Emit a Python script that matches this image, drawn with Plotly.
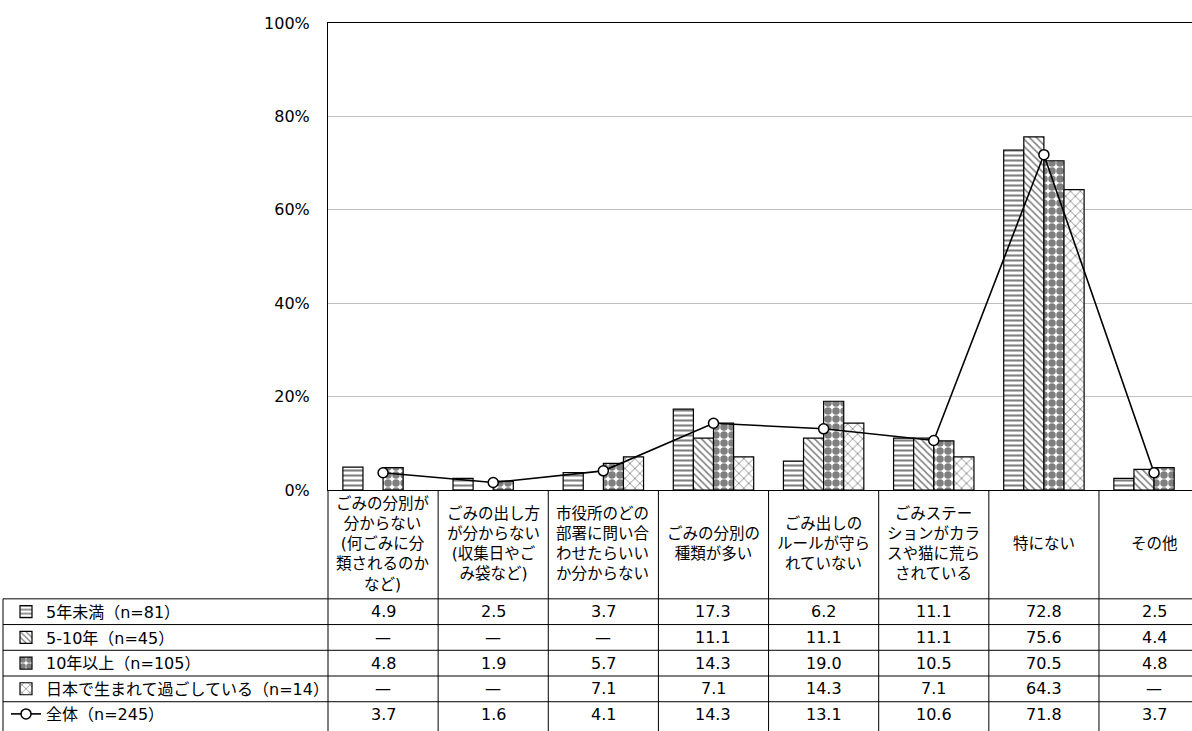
import plotly.graph_objects as go

# ---------------- data ----------------
categories = [
    "ごみの分別が<br>分からない<br>(何ごみに分<br>類されるのか<br>など)",
    "ごみの出し方<br>が分からない<br>(収集日やご<br>み袋など)",
    "市役所のどの<br>部署に問い合<br>わせたらいい<br>か分からない",
    "ごみの分別の<br>種類が多い",
    "ごみ出しの<br>ルールが守ら<br>れていない",
    "ごみステー<br>ションがカラ<br>スや猫に荒ら<br>されている",
    "特にない",
    "その他",
]
series_names = [
    "5年未満（n=81）",
    "5-10年（n=45）",
    "10年以上（n=105）",
    "日本で生まれて過ごしている（n=14）",
]
v_lt5 = [4.9, 2.5, 3.7, 17.3, 6.2, 11.1, 72.8, 2.5]
v_5to10 = [None, None, None, 11.1, 11.1, 11.1, 75.6, 4.4]
v_10plus = [4.8, 1.9, 5.7, 14.3, 19.0, 10.5, 70.5, 4.8]
v_japan = [None, None, 7.1, 7.1, 14.3, 7.1, 64.3, None]
total_name = "全体（n=245）"
v_total = [3.7, 1.6, 4.1, 14.3, 13.1, 10.6, 71.8, 3.7]
y_ticks = [0, 20, 40, 60, 80, 100]

# ---------------- layout constants ----------------
W, H = 1192, 731
L, R, T, B = 328, 0, 23, 236
plot_w = W - L - R
plot_h = H - T - B
col_w = 110.14
x_max = -0.5 + plot_w / col_w
FONT = "DejaVu Sans, Noto Sans CJK JP, sans-serif"


def py(Y):
    """pixel row -> paper y"""
    return (H - B - Y) / plot_h


def px(X):
    return (X - L) / plot_w


patterns = [
    dict(shape="-", size=5, solidity=0.42),
    dict(shape="\\", size=5, solidity=0.32),
    dict(shape=".", size=8, solidity=0.7),
    dict(shape="x", size=7, solidity=0.22),
]
series_vals = [v_lt5, v_5to10, v_10plus, v_japan]
legend_ids = ["legend", "legend2", "legend3", "legend4", "legend5"]
row_centers = [618, 644, 670, 696, 722]

fig = go.Figure()
for i, (name, vals, pat) in enumerate(zip(series_names, series_vals, patterns)):
    fig.add_trace(go.Bar(
        x=categories, y=vals, name=name, legend=legend_ids[i],
        marker=dict(color="white",
                    line=dict(color="black", width=1.2),
                    pattern=dict(fgcolor="black", bgcolor="white", **pat)),
        hoverinfo="skip",
    ))

fig.add_trace(go.Scatter(
    x=categories, y=v_total, name=total_name, legend=legend_ids[4],
    mode="lines+markers",
    line=dict(color="black", width=1.6),
    marker=dict(symbol="circle", size=10, color="white",
                line=dict(color="black", width=1.5)),
    hoverinfo="skip",
))

# ---------------- table ----------------
shapes = []
row_lines = [605, 631, 657, 683, 709]
for Y in row_lines:
    shapes.append(dict(type="line", xref="paper", yref="paper",
                       x0=px(3), x1=1.02, y0=py(Y), y1=py(Y),
                       line=dict(color="black", width=1)))
shapes.append(dict(type="line", xref="paper", yref="paper",
                   x0=px(3), x1=px(3), y0=py(605), y1=py(H + 10),
                   line=dict(color="black", width=1)))
shapes.append(dict(type="line", xref="paper", yref="paper",
                   x0=0, x1=0, y0=0, y1=py(H + 10),
                   line=dict(color="black", width=1)))
for k in range(len(categories) - 1):
    shapes.append(dict(type="line", xref="x", yref="paper",
                       x0=k + 0.5, x1=k + 0.5, y0=0, y1=py(H + 10),
                       line=dict(color="black", width=1)))

annotations = []
for k, c in enumerate(categories):
    annotations.append(dict(x=k, y=py(550), xref="x", yref="paper",
                            text=c, showarrow=False, xanchor="center",
                            yanchor="middle",
                            font=dict(family=FONT, size=15.5, color="black")))

all_rows = series_vals + [v_total]
for r, vals in enumerate(all_rows):
    for k, v in enumerate(vals):
        txt = "—" if v is None else f"{v:.1f}"
        annotations.append(dict(x=k, y=py(row_centers[r]), xref="x", yref="paper",
                                text=txt, showarrow=False, xanchor="center",
                                yanchor="middle",
                                font=dict(family=FONT, size=16, color="black")))

legend_layouts = {}
for i, lid in enumerate(legend_ids):
    legend_layouts[lid] = dict(
        x=px(6), xanchor="left", y=py(row_centers[i]), yanchor="middle",
        font=dict(family=FONT, size=16, color="black"),
        itemwidth=30, bgcolor="rgba(0,0,0,0)", borderwidth=0,
    )

fig.update_layout(
    width=W, height=H,
    margin=dict(l=L, r=R, t=T, b=B, pad=0),
    paper_bgcolor="white", plot_bgcolor="white",
    barmode="group", bargap=0.27, bargroupgap=0,
    font=dict(family=FONT, size=16, color="black"),
    showlegend=True,
    shapes=shapes,
    annotations=annotations,
    **legend_layouts,
)
fig.update_xaxes(type="category", categoryorder="array", categoryarray=categories,
                 range=[-0.5, x_max], showticklabels=False, ticks="",
                 showgrid=False, showline=True, linecolor="black", linewidth=1,
                 mirror=True, zeroline=False, fixedrange=True)
fig.update_yaxes(range=[0, 100], tickvals=y_ticks,
                 ticktext=[f"{t}%" for t in y_ticks],
                 showgrid=True, gridcolor="#c0c0c0", gridwidth=1,
                 showline=True, linecolor="black", linewidth=1, mirror=False,
                 zeroline=False, ticks="", ticklabelstandoff=14,
                 tickfont=dict(family=FONT, size=16, color="black"),
                 fixedrange=True)

fig.write_html(
    "out.html",
    config={"displayModeBar": False},
    post_script="document.body.style.margin='0';document.body.style.overflow='hidden';",
)
